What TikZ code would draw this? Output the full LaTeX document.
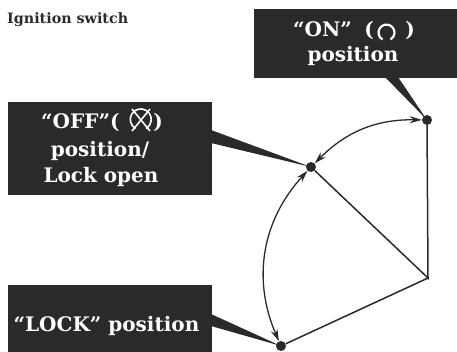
\documentclass[tikz,border=0pt]{standalone}
\usepackage{fontspec}
\setmainfont{DejaVu Serif}
\usetikzlibrary{arrows.meta}
\definecolor{boxc}{HTML}{2B2A29}
\tikzset{
  x=1pt,y=-1pt,
  blackbox/.style={fill=boxc,draw=none,inner sep=0pt,anchor=north west},
  dot/.style={circle,fill=boxc,draw=none,minimum size=10pt,inner sep=0pt},
  pointer/.style={fill=boxc,draw=none},
  swing/.style={draw=boxc,line width=1.3pt,{Stealth[length=12pt,width=7pt]}-{Stealth[length=12pt,width=7pt]}},
  spoke/.style={draw=boxc,line width=1.5pt},
  sym/.style={draw=white,line width=1.6pt},
  label/.style={text=white,font=\bfseries\fontsize{20}{20}\selectfont,anchor=base,inner sep=0pt}
}
\begin{document}
\begin{tikzpicture}
\useasboundingbox (0,0) rectangle (457,352);
\node[dot] (on) at (427,120) {};
\node[dot] (off) at (311,167) {};
\node[dot] (lock) at (281,346) {};
\coordinate (pivot) at (428,278);
\node[blackbox,minimum width=203pt,minimum height=69pt] (onbox) at (254,9) {};
\node[blackbox,minimum width=204pt,minimum height=93pt] (offbox) at (8,102) {};
\node[blackbox,minimum width=204pt,minimum height=67pt] (lockbox) at (8,285) {};
\fill[pointer] (385,77) -- (on.center) -- (398,77) -- cycle;
\fill[pointer] (211,130) -- (off.center) -- (211,143) -- cycle;
\fill[pointer] (211,314) -- (lock.center) -- (211,326) -- cycle;
\draw[spoke] (on) -- (pivot) -- (off);
\draw[spoke] (pivot) -- (lock);
\draw[swing] (on) to[bend right=23] (off);
\draw[swing] (off) to[bend right=33] (lock);
\node[anchor=base west,inner sep=0pt,font=\bfseries\fontsize{14.3}{15}\selectfont,text=boxc] (title) at (7,24) {Ignition switch};
\node[label,anchor=base west] (ont) at (293,37) {“ON”};
\node[label] (onl) at (369,37) {(};
\node[label] (onr) at (410,37) {)};
\node[label] (onp) at (353,62) {position};
\node[label,anchor=base west] (offt) at (41,129) {“OFF”(};
\node[label] (offr) at (158,129) {)};
\node[label] (offp) at (100,157) {position/};
\node[label] (offq) at (101,183) {Lock open};
\node[label] (lockt) at (106.5,331) {“LOCK” position};
% ON symbol
\draw[sym,line width=2.2pt] (382.5,39.5) arc[start angle=240,delta angle=-300,radius=8pt];
% OFF symbol
\draw[sym] (135.5,128.5) arc[start angle=240,delta angle=-300,radius=10.5pt];
\draw[sym] (132,109) -- (150,131) (150,109) -- (132,131);
\end{tikzpicture}
\end{document}
